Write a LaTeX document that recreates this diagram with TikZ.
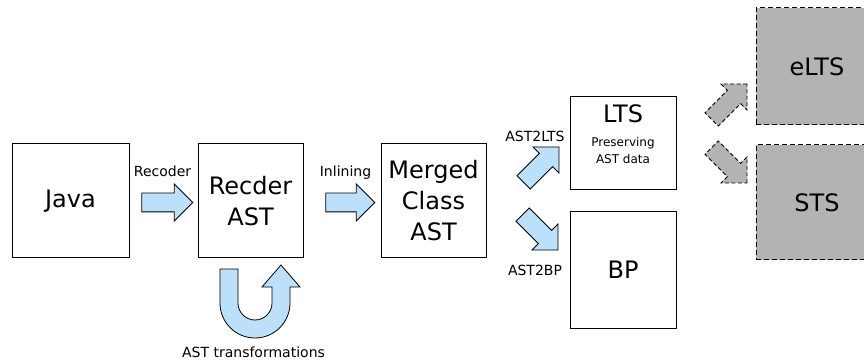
\documentclass[tikz,border=0pt]{standalone}
\usepackage{fontspec}
\setmainfont{DejaVu Sans}
\usetikzlibrary{shapes.arrows}
\definecolor{arrowblue}{RGB}{187,224,250}
\definecolor{futuregray}{RGB}{179,179,179}

\begin{document}
\begin{tikzpicture}[x=1pt,y=-1pt,
		block/.style={draw, line width=1pt, minimum width=105pt, minimum height=114pt, align=center, font=\fontsize{24}{31}\selectfont},
		future/.style={block, dash pattern=on 5pt off 3pt, fill=futuregray, minimum width=122pt},
		blockarrow/.style={single arrow, draw, line width=0.8pt, fill=arrowblue, inner sep=9pt, single arrow head extend=9pt, minimum height=51pt},
		futurearrow/.style={blockarrow, fill=futuregray, dash pattern=on 4pt off 2.5pt},
		lbl/.style={font=\fontsize{14}{17}\selectfont, inner sep=0pt},
		note/.style={font=\fontsize{12}{17}\selectfont, align=center, inner sep=0pt}]
			\useasboundingbox (0,0) rectangle (864,363);
			% main chain
			\node(Java) at (70.5,201)	[block, minimum width=117pt]			{Java};
			\node(RecderAST)		[block, right of=Java, node distance=180pt]		{Recder\\AST};
			\node(MergedAST)		[block, right of=RecderAST, node distance=183pt]	{Merged\\Class\\AST};
			\node(LTS) at (623,143.5)	[block, minimum width=106pt, minimum height=93pt]	{};
			\node(LTSname) at ([yshift=30pt]LTS.center)	[font=\fontsize{24}{31}\selectfont, inner sep=0pt]	{LTS};
			\node(LTSnote) at ([yshift=-7pt]LTS.center)	[note]				{Preserving\\AST data};
			\node(BP)			[block, below of=LTS, node distance=126.5pt, minimum width=106pt, minimum height=116pt]	{BP};
			% future work
			\node(eLTS) at (817,66.5)	[future, minimum height=117pt]			{eLTS};
			\node(STS)			[future, below of=eLTS, node distance=136pt, minimum height=115pt]	{STS};
			% block arrows
			\node(recoder) at (162.5,202.5)	[blockarrow]					{};
			\node(inlining) at (345.5,202.5)	[blockarrow, minimum height=49pt]		{};
			\node(toLTS) at (538,168)		[blockarrow, rotate=45, minimum height=50pt]	{};
			\node(toBP) at (537,229)		[blockarrow, rotate=-45, minimum height=50pt]	{};
			\node(toeLTS) at (726,105)		[futurearrow, rotate=45, minimum height=50pt]	{};
			\node(toSTS) at (726,162)		[futurearrow, rotate=-45, minimum height=50pt]	{};
			\node(recoderlbl) at (162.5,177)	[lbl, anchor=base]				{Recoder};
			\node(inlininglbl) at (345.5,177)	[lbl, anchor=base]				{Inlining};
			\node(astltslbl) at (535,142)	[lbl, anchor=base]				{AST2LTS};
			\node(astbplbl) at (535,275)	[lbl, anchor=base]				{AST2BP};
			\node(transflbl) at (253.5,357)	[lbl, anchor=base]				{AST transformations};
			% u-turn arrow under RecderAST
			\draw[line width=0.8pt, fill=arrowblue] (220,269) -- (220,303) arc[start angle=180, end angle=0, radius=35]
				-- (290,287) -- (300,287) -- (281,265) -- (262,287) -- (272,287) -- (272,303)
				arc[start angle=0, end angle=180, radius=17] -- (238,269) -- cycle;
		\end{tikzpicture}
\end{document}
